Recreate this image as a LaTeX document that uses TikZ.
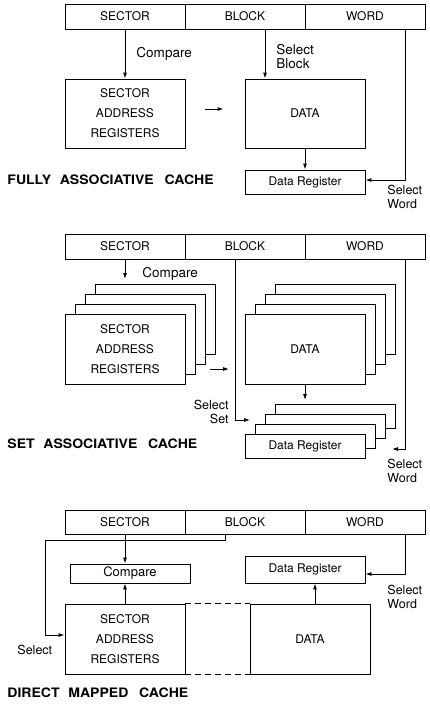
\documentclass[tikz,border=0pt]{standalone}
\usepackage{fontspec}
\setmainfont{TeX Gyre Heros}
\usetikzlibrary{arrows.meta,calc}
\tikzset{
  cell/.style={draw,minimum width=120pt,minimum height=25pt,inner sep=0pt,font=\fontsize{12}{14}\selectfont},
  box/.style={draw,fill=white,minimum width=120pt,inner sep=0pt,align=center,font=\fontsize{12}{20}\selectfont},
  arr/.style={-{Latex[length=6pt,width=4pt]}},
  lbl/.style={inner sep=0pt,align=left,font=\fontsize{12.5}{14}\selectfont},
  ttl/.style={inner sep=0pt,anchor=west,font=\fontsize{13}{15}\selectfont\bfseries},
}
\begin{document}
\begin{tikzpicture}[x=1pt,y=-1pt,line width=0.9pt]
\useasboundingbox (0,0) rectangle (430,705);
% ===== FULLY ASSOCIATIVE =====
\node[cell] (sector1) at (125,16.5) {SECTOR};
\node[cell] (block1) at (245,16.5) {BLOCK};
\node[cell] (word1) at (365,16.5) {WORD};
\node[box,minimum height=69pt] (sar1) at (125,113.5) {SECTOR\\ADDRESS\\REGISTERS};
\node[box,minimum height=69pt] (data1) at (305,113.5) {DATA};
\node[box,minimum height=24pt,font=\fontsize{12}{14}\selectfont] (dreg1) at (305,182) {Data Register};
\draw[arr] (sector1.south) -- (sar1.north);
\draw[arr] ([xshift=20pt]block1.south) -- ([xshift=-40pt]data1.north);
\draw[arr] ([xshift=20pt,yshift=4.5pt]sar1.east) -- ([xshift=-21pt,yshift=4.5pt]data1.west);
\draw[arr] (data1.south) -- (dreg1.north);
\draw[arr] ([xshift=40pt]word1.south) |- ([yshift=2pt]dreg1.east);
\node[lbl,anchor=west,font=\fontsize{13.5}{14}\selectfont] (lc1) at (136,54) {Compare};
\node[lbl,anchor=west,font=\fontsize{13.5}{14}\selectfont] (lsb1) at (276,57) {Select\\Block};
\node[lbl,anchor=west] (lsw1) at (387,197) {Select\\Word};
\node[ttl] (t1) at (7,180) {\scalebox{1.08}[1]{FULLY\hspace{8pt}ASSOCIATIVE\hspace{10pt}CACHE}};
% ===== SET ASSOCIATIVE =====
\node[cell] (sector2) at (125,246.5) {SECTOR};
\node[cell] (block2) at (245,246.5) {BLOCK};
\node[cell] (word2) at (365,246.5) {WORD};
\foreach \k in {3,2,1} {
  \node[box,minimum height=70pt] (sarS\k) at (125+10*\k,349-10*\k) {};
  \node[box,minimum height=70pt] (dataS\k) at (305+10*\k,349-10*\k) {};
  \node[box,minimum height=24pt] (dregS\k) at (305+10*\k,446-10*\k) {};
}
\node[box,minimum height=70pt] (sar2) at (125,349) {SECTOR\\ADDRESS\\REGISTERS};
\node[box,minimum height=70pt] (data2) at (305,349) {DATA};
\node[box,minimum height=24pt,font=\fontsize{12}{14}\selectfont] (dreg2) at (305,446) {Data Register};
\coordinate (cmp2) at (125,279);
\coordinate (sa2) at (210,369);
\coordinate (sb2) at (229,369);
\coordinate (ss2) at (250,420);
\coordinate (dr2) at (305,400);
\coordinate (sw2) at (392,449);
\draw[arr] (sector2.south) -- (cmp2);
\draw[arr] (sa2) -- (sb2);
\draw[arr] ([xshift=-10pt]block2.south) |- (ss2);
\draw[arr] (data2.south) -- (dr2);
\draw[arr] ([xshift=40pt]word2.south) |- (sw2);
\node[lbl,anchor=west,font=\fontsize{13.5}{14}\selectfont] (lc2) at (142,274) {Compare};
\node[lbl,anchor=east,align=right] (lss2) at (229,412) {Select\\Set};
\node[lbl,anchor=west] (lsw2) at (387,471) {Select\\Word};
\node[ttl] (t2) at (7,444) {\scalebox{1.08}[1]{SET\hspace{8pt}ASSOCIATIVE\hspace{10pt}CACHE}};
% ===== DIRECT MAPPED =====
\node[cell,minimum height=24pt] (sector3) at (125,522) {SECTOR};
\node[cell,minimum height=24pt] (block3) at (245,522) {BLOCK};
\node[cell,minimum height=24pt] (word3) at (365,522) {WORD};
\node[box,minimum height=19pt,font=\fontsize{13}{14}\selectfont] (cmp3) at (130,573.5) {Compare};
\node[box,minimum height=27pt,font=\fontsize{12}{14}\selectfont] (dreg3) at (305,569.5) {Data Register};
\node[box,minimum height=70pt] (sar3) at (125,639) {SECTOR\\ADDRESS\\REGISTERS};
\node[box,minimum height=70pt] (data3) at (310,639) {DATA};
\coordinate (bl3) at (45,540);
\draw[arr] (sector3.south) -- (sector3.south |- cmp3.north);
\draw[arr] (sar3.north) -- (sar3.north |- cmp3.south);
\draw[arr] ([xshift=-20pt]block3.south) |- (bl3) |- ([yshift=4pt]sar3.west);
\draw[arr] ([xshift=5pt]data3.north) -- ([xshift=5pt]data3.north |- dreg3.south);
\draw[arr] ([xshift=40pt]word3.south) |- ([yshift=-4.5pt]dreg3.east);
\draw[dashed,dash pattern=on 6pt off 4pt] (sar3.north east) -- (data3.north west);
\draw[dashed,dash pattern=on 6pt off 4pt] (sar3.south east) -- (data3.south west);
\node[lbl,anchor=west] (lsw3) at (387,597) {Select\\Word};
\node[lbl,anchor=west] (ls3) at (17,650) {Select};
\node[ttl] (t3) at (7,693) {\scalebox{1.08}[1]{DIRECT\hspace{8pt}MAPPED\hspace{10pt}CACHE}};
\end{tikzpicture}
\end{document}
